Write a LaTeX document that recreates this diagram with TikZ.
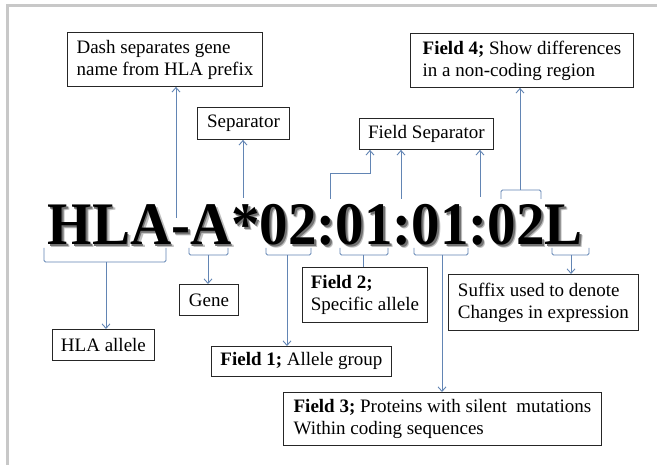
\documentclass[tikz,border=0pt]{standalone}
\usepackage{fontspec}
\setmainfont{Liberation Serif}
\usetikzlibrary{arrows.meta}
\definecolor{linkblue}{RGB}{98,133,180}
\definecolor{framegray}{RGB}{200,200,200}
\newcommand{\codetext}{HLA-A*02:01:01:02L}
\newcommand{\shadowed}[1]{%
  \makebox[0pt][l]{\hspace{3pt}\raisebox{-3.3pt}{\color{black!25}#1}}%
  \makebox[0pt][l]{\hspace{1.8pt}\raisebox{-2pt}{\color{black!55}#1}}%
  #1}
\tikzset{
  box/.style={draw=black!85, line width=0.9pt, fill=white, anchor=north west,
    inner xsep=8pt, inner ysep=0pt, align=left, font=\fontsize{19}{22}\selectfont},
  link/.style={draw=linkblue, line width=0.9pt},
  arr/.style={link, -{Straight Barb[length=4.5pt,width=8pt]}},
  brace/.style={link, rounded corners=1.5pt},
  code/.style={font=\fontsize{57}{60}\selectfont\bfseries, anchor=base west, inner sep=0pt},
}
\begin{document}
\begin{tikzpicture}[x=1pt,y=-1pt]
\useasboundingbox (0,0) rectangle (657,465);
\fill[white] (0,0) rectangle (657,465);
\draw[framegray, line width=2.7pt] (7.3,465) -- (7.3,5.3) -- (657,5.3);

% boxes
\node[box, minimum width=195pt, minimum height=54pt] (dash) at (67,32) {Dash separates gene\\name from HLA prefix};
\node[box, minimum width=92pt, minimum height=32pt] (sep) at (197,107) {Separator};
\node[box, minimum width=134pt, minimum height=31pt] (fsep) at (359,118) {Field Separator};
\node[box, minimum width=223pt, minimum height=54pt] (f4) at (410,33) {\textbf{Field 4;} Show differences\\in a non-coding region};
\node[box, minimum width=102pt, minimum height=31pt] (hla) at (52,329) {HLA allele};
\node[box, minimum width=59pt, minimum height=31pt] (gene) at (179,284) {Gene};
\node[box, minimum width=180pt, minimum height=30pt] (f1) at (211,346) {\textbf{Field 1;} Allele group};
\node[box, minimum width=125pt, minimum height=55pt] (f2) at (302,267) {\textbf{Field 2;}\\Specific allele};
\node[box, minimum width=318pt, minimum height=53pt] (f3) at (283,392) {\textbf{Field 3;} Proteins with silent\ \ mutations\\Within coding sequences};
\node[box, minimum width=190pt, minimum height=56pt] (suf) at (448,274) {Suffix used to denote\\Changes in expression};

% upper connectors
\coordinate (dashfoot) at (176,218);
\draw[arr] (dashfoot) -- (dashfoot |- dash.south);
\coordinate (sepfoot) at (243,198);
\draw[arr] (sepfoot) -- (sepfoot |- sep.south);
\coordinate (fs1) at (330,199);
\coordinate (fs1bend) at (370,173);
\draw[arr] (fs1) |- (fs1bend) -- (fs1bend |- fsep.south);
\coordinate (fs2) at (401,199);
\draw[arr] (fs2) -- (fs2 |- fsep.south);
\coordinate (fs3) at (480,197);
\draw[arr] (fs3) -- (fs3 |- fsep.south);
\draw[brace] (501,199) -- (501,190) -- (541,190) -- (541,199);
\coordinate (f4foot) at (520,190);
\draw[arr] (f4foot) -- (f4foot |- f4.south);

% lower braces
\draw[brace] (44,248) -- (44,262) -- (166,262) -- (166,248);
\coordinate (hlafoot) at (106,262);
\draw[arr] (hlafoot) -- (hlafoot |- hla.north);
\draw[brace] (189,248) -- (189,255) -- (228,255) -- (228,248);
\coordinate (genefoot) at (208,255);
\draw[arr] (genefoot) -- (genefoot |- gene.north);
\draw[brace] (266,248) -- (266,255) -- (311,255) -- (311,248);
\coordinate (f1foot) at (287,255);
\draw[arr] (f1foot) -- (f1foot |- f1.north);
\draw[brace] (340,248) -- (340,255) -- (388,255) -- (388,248);
\coordinate (f2foot) at (363,255);
\draw[link] (f2foot) -- (f2foot |- f2.north);
\draw[brace] (414,248) -- (414,255) -- (468,255) -- (468,248);
\coordinate (f3foot) at (442,255);
\draw[arr] (f3foot) -- (f3foot |- f3.north);
\draw[brace] (552,248) -- (552,255) -- (589,255) -- (589,248);
\coordinate (suffoot) at (571,255);
\draw[arr] (suffoot) -- (suffoot |- suf.north);

% big code with shadow (one text)
\node[code] (code) at (47.5,244.5) {\scalebox{1}[1.06]{\shadowed{\codetext}}};
\end{tikzpicture}
\end{document}
